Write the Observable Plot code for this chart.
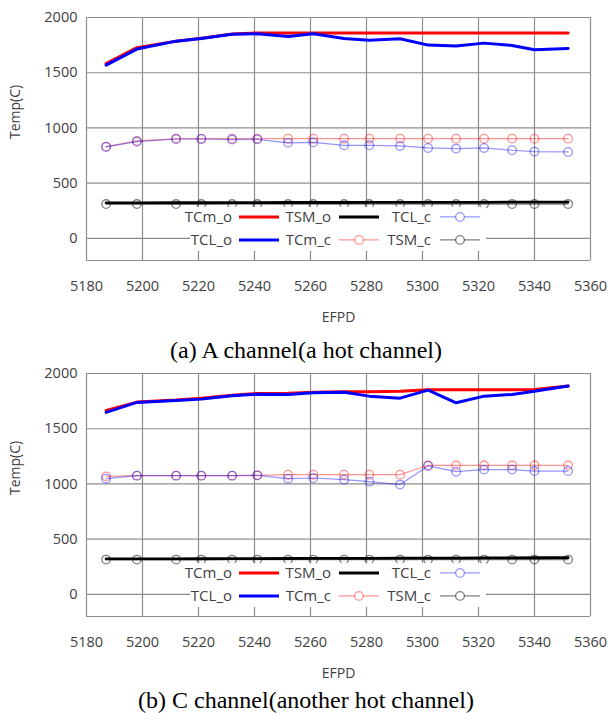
<!DOCTYPE html>
<html><head><meta charset="utf-8">
<script src="https://cdn.jsdelivr.net/npm/d3@7"></script>
<script src="https://cdn.jsdelivr.net/npm/@observablehq/plot@0.6"></script>
<style>
body{margin:0;background:#fff;}
#root{position:relative;width:612px;height:713px;overflow:hidden;background:#fff;}
.panel{position:absolute;left:0;}
.cap{position:absolute;left:0;width:612px;text-align:center;font-family:"Liberation Serif","Times New Roman",serif;font-size:24px;line-height:26px;color:#000;white-space:nowrap;}
</style></head><body><div id="root"></div>
<script>
// ---------- data ----------
const efpd = [5187,5198,5212,5221,5232,5241,5252,5261,5272,5281,5292,5302,5312,5322,5332,5340,5352];
const xTicks = [5180,5200,5220,5240,5260,5280,5300,5320,5340,5360];
const yTicks = [0,500,1000,1500,2000];
const yDomain = [-200,2000];

// panel (a) A channel
const a_TCm_o = [1582,1727,1786,1813,1851,1860,1860,1860,1860,1860,1860,1860,1860,1860,1860,1860,1860];
const a_TCL_o = [1569,1714,1786,1810,1849,1852,1828,1852,1810,1795,1807,1750,1741,1768,1747,1708,1720];
const a_TSM_o = [322,322,323,323,324,324,325,325,325,326,326,327,327,327,328,328,329];
const a_TCm_c = [831,883,902,903,903,903,903,903,903,903,903,903,903,903,903,903,903];
const a_TCL_c = [828,877,900,900,895,897,865,870,843,843,837,819,813,819,798,786,783];
const a_TSM_c = [311,311,311,311,311,311,311,311,311,311,311,311,311,311,311,311,311];

// panel (b) C channel
const b_TCm_o = [1666,1741,1759,1777,1804,1819,1822,1831,1834,1834,1840,1852,1852,1852,1852,1855,1886];
const b_TCL_o = [1648,1738,1756,1768,1798,1813,1810,1825,1831,1795,1777,1849,1735,1795,1810,1840,1886];
const b_TSM_o = [321,322,322,323,324,324,325,326,326,327,328,328,329,330,331,332,333];
const b_TCm_c = [1069,1075,1075,1075,1075,1078,1084,1084,1084,1084,1084,1169,1169,1169,1169,1169,1169];
const b_TCL_c = [1048,1075,1075,1075,1075,1078,1048,1054,1039,1021,994,1163,1111,1130,1130,1117,1117];
const b_TSM_c = [315,315,315,315,315,315,315,315,315,315,315,315,315,315,315,315,315];

const captions = ["(a) A channel(a hot channel)", "(b) C channel(another hot channel)"];
const xLabel = "EFPD";
const yLabel = "Temp(C)";

// series styling / legend order
const seriesNames = ["TCm_o","TCL_o","TSM_o","TCm_c","TCL_c","TSM_c"];
const seriesColors = {TCm_o:"#ff0000", TCL_o:"#0000ff", TSM_o:"#000000", TCm_c:"#ff0000", TCL_c:"#0000ff", TSM_c:"#000000"};
const markerSeries = {TCm_c:true, TCL_c:true, TSM_c:true};
// legend grid: [row][col]
const legendRows = [["TCm_o","TSM_o","TCL_c"],["TCL_o","TCm_c","TSM_c"]];

const textColor = "#404040";
const gridColor = "#8c8c8c";
const font = "'Open Sans', 'DejaVu Sans', sans-serif";

function seriesOpacity(name){
  if (name === "TSM_c") return 0.5;
  return markerSeries[name] ? 0.42 : 1;
}

function makePanel(S, top) {
  const W = 612, H = 330, ML = 86, MR = 22, MT = 17, MB = 70;
  const rows = name => efpd.map((x, i) => ({x, y: S[name][i]}));
  const marks = [
    Plot.ruleX(xTicks, {stroke: gridColor, strokeWidth: 1.2}),
    Plot.ruleY([yDomain[0], ...yTicks], {stroke: gridColor, strokeWidth: 1.2}),
    Plot.axisX({ticks: xTicks, tickSize: 0, tickPadding: 20, tickFormat: d => String(d), label: null, fontSize: 14.5, fill: textColor}),
    Plot.axisY({ticks: yTicks, tickSize: 0, tickPadding: 9, tickFormat: d => String(d), label: null, fontSize: 14.5, fill: textColor}),
    Plot.text([xLabel], {frameAnchor: "bottom", dy: 61, text: d => d, fontSize: 14, fill: textColor}),
    Plot.text([yLabel], {frameAnchor: "left", dx: -71, rotate: -90, text: d => d, fontSize: 14, fill: textColor})
  ];
  for (const name of seriesNames) {
    const col = seriesColors[name], op = seriesOpacity(name);
    if (markerSeries[name]) {
      marks.push(Plot.line(rows(name), {x: "x", y: "y", stroke: col, strokeOpacity: op, strokeWidth: 1.2}));
      marks.push(Plot.dot(rows(name), {x: "x", y: "y", r: 4.3, stroke: col, strokeOpacity: op, strokeWidth: 1.3, fill: "none"}));
    } else {
      marks.push(Plot.line(rows(name), {x: "x", y: "y", stroke: col, strokeWidth: name === "TSM_o" ? 2.8 : 3}));
    }
  }
  const plot = Plot.plot({
    width: W, height: H, marginLeft: ML, marginRight: MR, marginTop: MT, marginBottom: MB,
    x: {domain: [5180, 5360]},
    y: {domain: yDomain},
    style: {fontFamily: font, background: "#fff", overflow: "visible"},
    marks
  });
  plot.classList.add("panel");
  plot.style.top = top + "px";

  // legend (inside plot area, white box)
  const y0 = plot.scale("y").apply(0);
  const svg = d3.select(plot);
  const g = svg.append("g").attr("font-family", font).attr("font-size", 15).attr("fill", textColor);
  g.append("rect").attr("x", 190).attr("y", y0 - 31).attr("width", 296).attr("height", 44).attr("fill", "#fff");
  const textEnd = [232, 331, 431];
  const lineStart = [239, 339, 440];
  const lineLen = 40;
  legendRows.forEach((row, ri) => {
    const yy = ri === 0 ? y0 - 21 : y0 + 2;
    row.forEach((name, ci) => {
      g.append("text").attr("x", textEnd[ci]).attr("y", yy).attr("dy", "0.35em").attr("text-anchor", "end").text(name);
      const col = seriesColors[name], op = seriesOpacity(name);
      const x1 = lineStart[ci], x2 = x1 + lineLen;
      if (markerSeries[name]) {
        g.append("line").attr("x1", x1).attr("x2", x2).attr("y1", yy).attr("y2", yy).attr("stroke", col).attr("stroke-opacity", op).attr("stroke-width", 1.2);
        g.append("circle").attr("cx", (x1 + x2) / 2).attr("cy", yy).attr("r", 4.3).attr("fill", "#fff").attr("stroke", col).attr("stroke-opacity", op).attr("stroke-width", 1.3);
      } else {
        g.append("line").attr("x1", x1).attr("x2", x2).attr("y1", yy).attr("y2", yy).attr("stroke", col).attr("stroke-width", 3);
      }
    });
  });
  return plot;
}

const root = document.getElementById("root");
const A = {TCm_o: a_TCm_o, TCL_o: a_TCL_o, TSM_o: a_TSM_o, TCm_c: a_TCm_c, TCL_c: a_TCL_c, TSM_c: a_TSM_c};
const B = {TCm_o: b_TCm_o, TCL_o: b_TCL_o, TSM_o: b_TSM_o, TCm_c: b_TCm_c, TCL_c: b_TCL_c, TSM_c: b_TSM_c};
root.appendChild(makePanel(A, 0));
root.appendChild(makePanel(B, 356));
const capTops = [337, 687];
captions.forEach((t, i) => {
  const d = document.createElement("div");
  d.className = "cap";
  d.style.top = capTops[i] + "px";
  d.textContent = t;
  root.appendChild(d);
});
</script></body></html>
